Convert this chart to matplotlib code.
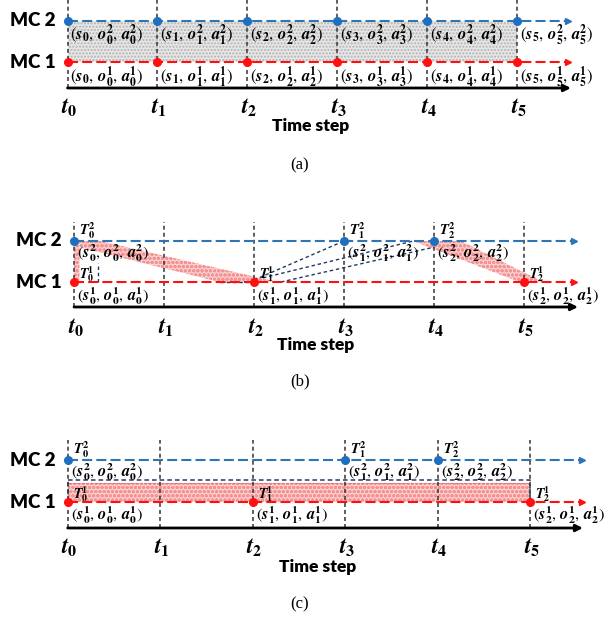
import matplotlib
matplotlib.use('Agg')
import matplotlib.pyplot as plt
from matplotlib.patches import Polygon, Rectangle

plt.rcParams['mathtext.fontset'] = 'stix'

W, H = 616, 619

# ---------------- data ----------------
steps = [0, 1, 2, 3, 4, 5]
t_tick_labels = [r'$\mathbfit{t}_{\mathbf{0}}$', r'$\mathbfit{t}_{\mathbf{1}}$',
                 r'$\mathbfit{t}_{\mathbf{2}}$', r'$\mathbfit{t}_{\mathbf{3}}$',
                 r'$\mathbfit{t}_{\mathbf{4}}$', r'$\mathbfit{t}_{\mathbf{5}}$']
mc_names = ['MC 1', 'MC 2']
mc_levels = [1, 2]
axis_title = 'Time step'
captions = ['(a)', '(b)', '(c)']

# panel (a): both chains sampled at every step
a_mc1_times = [0, 1, 2, 3, 4, 5]
a_mc2_times = [0, 1, 2, 3, 4, 5]
# panel (b): asynchronous transitions
b_mc1_times = [0, 2, 5]
b_mc2_times = [0, 3, 4]
# panel (c)
c_mc1_times = [0, 2, 5]
c_mc2_times = [0, 3, 4]

BLUE = '#2E75B6'
BLUE_DOT = '#1F6FC0'
RED = '#FF1010'
NAVY = '#1F3A68'

# panel layout (pixel geometry, styles only)
pa = dict(top=0, bot=185, x0=67.5, dx=89.9, y1=62, dy=41.3, axis=88, vtop=0,
          line_end=5.57, axis_end=5.6, ts_x=311, ts_dy=38)
pb = dict(top=200, bot=400, x0=74, dx=90, y1=282, dy=41, axis=307, vtop=222,
          line_end=5.55, axis_end=5.6, ts_x=316, ts_dy=38)
pc = dict(top=420, bot=619, x0=67.7, dx=92.5, y1=502, dy=42, axis=528, vtop=440,
          line_end=5.56, axis_end=5.57, ts_x=318, ts_dy=39)

fig = plt.figure(figsize=(W / 100, H / 100), dpi=100)


def lvl(p, px):
    return 1 + (p['y1'] - px) / p['dy']


def tt(p, px):
    return (px - p['x0']) / p['dx']


def make_ax(p):
    ax = fig.add_axes([0, 1 - p['bot'] / H, 1, (p['bot'] - p['top']) / H])
    ax.set_xlim(tt(p, 0), tt(p, W))
    ax.set_ylim(lvl(p, p['bot']), lvl(p, p['top']))
    ax.axis('off')
    return ax


def tuple_label(k, agent=None, sup_s=False):
    ss = r'^{\mathbf{%d}}' % agent if sup_s else ''
    return (r'$(\mathbfit{s}%s_{\mathbf{%d}},\, \mathbfit{o}^{\mathbf{%d}}_{\mathbf{%d}},'
            r'\, \mathbfit{a}^{\mathbf{%d}}_{\mathbf{%d}})$' % (ss, k, agent, k, agent, k))


def T_label(k, agent):
    return r'$\mathbfit{T}^{\mathbf{%d}}_{\mathbf{%d}}$' % (agent, k)


def draw_base(ax, p, mc1_times, mc2_times):
    axis_lv = lvl(p, p['axis'])
    vtop = lvl(p, p['vtop'])
    for t in steps:
        ax.plot([t, t], [axis_lv, vtop], color='#333333', ls=(0, (2.6, 2.0)),
                lw=1.1, zorder=2)
    for level, color, dcol, times in [(2, BLUE, BLUE_DOT, mc2_times),
                                      (1, RED, RED, mc1_times)]:
        ax.plot([0, p['line_end']], [level, level], color=color,
                ls=(0, (4.8, 2.0)), lw=1.5, zorder=3)
        ax.plot([p['line_end']], [level], marker='>', color=color,
                markersize=4.5, zorder=3)
        ax.plot(times, [level] * len(times), 'o', color=dcol,
                markersize=5.5, zorder=5)
    ax.annotate('', xy=(p['axis_end'], axis_lv), xytext=(0, axis_lv),
                arrowprops=dict(arrowstyle='-|>', color='black', lw=2.0,
                                mutation_scale=10, shrinkA=0, shrinkB=0),
                zorder=4)
    for t, lab in zip(steps, t_tick_labels):
        ax.annotate(lab, (t, axis_lv), xytext=(2, -19), textcoords='offset pixels',
                    ha='center', va='center', fontsize=16.5)
    for name, level in zip(mc_names, mc_levels):
        ax.annotate(name, (0, level), xytext=(-12, 0), textcoords='offset pixels',
                    ha='right', va='center', fontsize=13.5, fontweight='heavy',
                    family=['Lato', 'DejaVu Sans'])
    ax.annotate(axis_title, (tt(p, p['ts_x']), axis_lv), xytext=(0, -p['ts_dy']),
                textcoords='offset pixels', ha='center', va='center',
                fontsize=12.5, fontweight='heavy', family=['Lato', 'DejaVu Sans'])


# ---------------- panel (a) ----------------
ax = make_ax(pa)
ax.add_patch(Rectangle((0, 1), 5, 1, facecolor='#E6E6E6', edgecolor='#B4B4B4',
                       hatch='.....', lw=0, zorder=1))
draw_base(ax, pa, a_mc1_times, a_mc2_times)
for k in a_mc2_times:
    ax.annotate(tuple_label(k, 2), (k, 2), xytext=(3, -15), textcoords='offset pixels',
                ha='left', va='center', fontsize=12)
for k in a_mc1_times:
    ax.annotate(tuple_label(k, 1), (k, 1), xytext=(3, -15), textcoords='offset pixels',
                ha='left', va='center', fontsize=12)

# ---------------- panel (b) ----------------
ax = make_ax(pb)
red_kw = dict(facecolor='#FCCFCF', edgecolor='#F29494', hatch='oooo', lw=0, zorder=1)
ax.add_patch(Polygon([(0, 2), (0.29, 2), (2.26, 1), (1.62, 1), (0.06, 1.85),
                      (0.06, 1), (0, 1)], closed=True, **red_kw))
ax.add_patch(Polygon([(3.77, 2), (4.3, 2), (5.21, 1), (4.95, 1)], closed=True, **red_kw))
ax.plot([0.27, 0.27], [1, 1.46], color=NAVY, ls=(0, (2.5, 2)), lw=1.0, zorder=2)
ax.plot([1.62, 2.0], [1, 1], color=NAVY, ls=(0, (2.5, 2)), lw=1.0, zorder=2)
for (xa, ya), (xb, yb) in [((2.0, 1.05), (3.0, 2.0)),
                           ((2.1, 1.1), (3.77, 2.0)),
                           ((2.3, 1.0), (4.0, 1.85))]:
    ax.plot([xa, xb], [ya, yb], color=NAVY, ls=(0, (2.5, 2)), lw=1.0, zorder=2)
draw_base(ax, pb, b_mc1_times, b_mc2_times)
for k, t in enumerate(b_mc2_times):
    ax.annotate(T_label(k, 2), (t, 2), xytext=(5, 10), textcoords='offset pixels',
                ha='left', va='center', fontsize=10.5)
    ax.annotate(tuple_label(k, 2, True), (t, 2), xytext=(3, -12), textcoords='offset pixels',
                ha='left', va='center', fontsize=11.8)
for k, t in enumerate(b_mc1_times):
    ax.annotate(T_label(k, 1), (t, 1), xytext=(5, 8), textcoords='offset pixels',
                ha='left', va='center', fontsize=10)
    ax.annotate(tuple_label(k, 1, True), (t, 1), xytext=(3, -14), textcoords='offset pixels',
                ha='left', va='center', fontsize=11.8)

# ---------------- panel (c) ----------------
ax = make_ax(pc)
ax.add_patch(Rectangle((0, 1), 5, 0.45, facecolor='#FCCFCF', edgecolor='#F29494',
                       hatch='oooo', lw=0, zorder=1))
ax.plot([0, 5], [1.45, 1.45], color='#F07070', ls=(0, (2.5, 1.5)), lw=0.8, zorder=2)
ax.plot([0, 5, 5], [1.52, 1.52, 1.0], color=NAVY, ls=(0, (3, 2)), lw=1.1, zorder=2)
ax.plot([0, 0], [1.0, 1.52], color=NAVY, ls=(0, (3, 2)), lw=1.1, zorder=2)
draw_base(ax, pc, c_mc1_times, c_mc2_times)
for k, t in enumerate(c_mc2_times):
    ax.annotate(T_label(k, 2), (t, 2), xytext=(5, 10), textcoords='offset pixels',
                ha='left', va='center', fontsize=10.5)
    ax.annotate(tuple_label(k, 2, True), (t, 2), xytext=(3, -12), textcoords='offset pixels',
                ha='left', va='center', fontsize=11.8)
for k, t in enumerate(c_mc1_times):
    ax.annotate(T_label(k, 1), (t, 1), xytext=(5, 8), textcoords='offset pixels',
                ha='left', va='center', fontsize=10)
    ax.annotate(tuple_label(k, 1, True), (t, 1), xytext=(3, -13), textcoords='offset pixels',
                ha='left', va='center', fontsize=11.8)

# captions
for cap, ypx in zip(captions, [165, 381, 604]):
    fig.text(300 / W, 1 - ypx / H, cap, ha='center', va='center', fontsize=12,
             family=['Liberation Serif', 'DejaVu Serif'])

fig.savefig('out.png', dpi=100)
